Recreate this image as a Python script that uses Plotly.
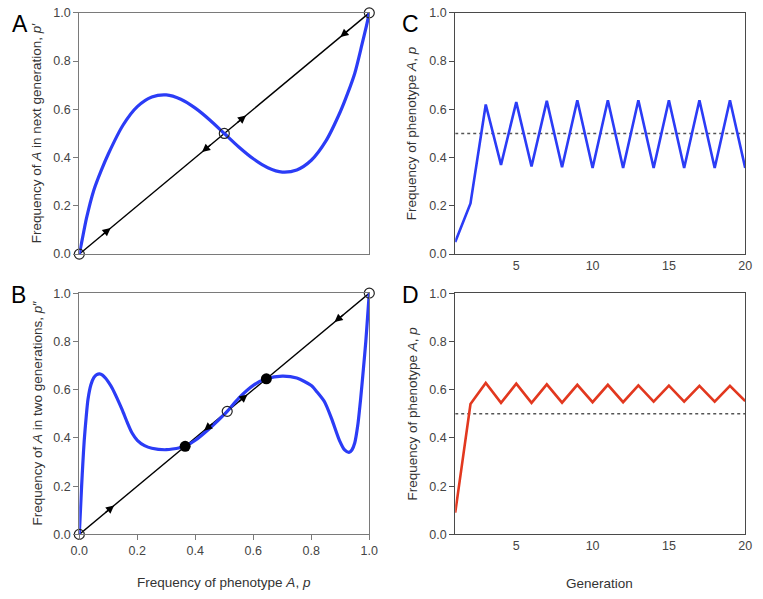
import plotly.graph_objects as go

# ---------------- data ----------------
# Panel A: p -> p'
p_A = [0, 0.01, 0.025, 0.05, 0.075, 0.1, 0.15, 0.2, 0.25, 0.3, 0.35, 0.4, 0.45, 0.5,
       0.55, 0.6, 0.65, 0.7, 0.75, 0.8, 0.85, 0.9, 0.925, 0.95, 0.975, 0.99, 1.0]
f_A = [0, 0.06, 0.15, 0.265, 0.345, 0.415, 0.533, 0.611, 0.651, 0.66, 0.642, 0.605, 0.556, 0.5,
       0.444, 0.395, 0.358, 0.34, 0.349, 0.389, 0.468, 0.59, 0.665, 0.75, 0.87, 0.945, 1.0]

# Panel B: p -> p''
p_B = [0, 0.004, 0.008, 0.012, 0.017, 0.024, 0.03, 0.04, 0.05, 0.06, 0.07, 0.08, 0.09, 0.1,
       0.114, 0.13, 0.148, 0.165, 0.182, 0.2, 0.225, 0.25, 0.3, 0.35, 0.365, 0.4, 0.45, 0.5,
       0.51, 0.55, 0.6, 0.645, 0.7, 0.75, 0.8, 0.82, 0.846, 0.87, 0.897, 0.915, 0.93, 0.94,
       0.95, 0.96, 0.97, 0.98, 0.988, 0.994, 1.0]
f_B = [0, 0.1, 0.2, 0.29, 0.39, 0.49, 0.56, 0.62, 0.65, 0.662, 0.665, 0.66, 0.648, 0.632,
       0.605, 0.565, 0.516, 0.465, 0.42, 0.39, 0.368, 0.357, 0.351, 0.36, 0.365, 0.39, 0.44, 0.497,
       0.51, 0.565, 0.618, 0.645, 0.656, 0.648, 0.617, 0.59, 0.549, 0.48, 0.39, 0.35, 0.34, 0.35,
       0.38, 0.45, 0.56, 0.69, 0.8, 0.9, 1.0]

open_fixed_A = [0, 0.5, 1.0]
open_fixed_B = [0, 0.51, 1.0]
stable_B = [0.365, 0.645]

arrows_A = [0.108, 0.575, 0.423, 0.9]
arrows_A_dir = [1, 1, -1, -1]
arrows_B = [0.12, 0.58, 0.43, 0.88]
arrows_B_dir = [1, 1, -1, -1]

# Panels C and D: trajectories
generation = list(range(1, 21))
traj_C = [0.05, 0.21, 0.62, 0.37, 0.63, 0.363, 0.635, 0.36, 0.638, 0.357, 0.638, 0.357,
          0.638, 0.357, 0.638, 0.357, 0.638, 0.357, 0.638, 0.357]
traj_D = [0.09, 0.54, 0.628, 0.545, 0.625, 0.545, 0.622, 0.546, 0.62, 0.548, 0.62, 0.548,
          0.618, 0.55, 0.617, 0.55, 0.616, 0.55, 0.616, 0.553]
half_line = [0.5, 0.5]
half_x = [1, 20]

y_ticks = [0, 0.2, 0.4, 0.6, 0.8, 1.0]
p_ticks = [0, 0.2, 0.4, 0.6, 0.8, 1.0]
gen_ticks = [5, 10, 15, 20]

BLUE = "#2b3cf6"
RED = "#e2381f"
FONT = "Liberation Sans, Arial, sans-serif"

# ---------------- figure ----------------
fig = go.Figure()

W, H = 763, 599
def px_x(a, b):
    return [a / W, b / W]
def px_y(top, bottom):
    return [1 - bottom / H, 1 - top / H]

# A
fig.add_trace(go.Scatter(x=[0, 1], y=[0, 1], mode="lines", line=dict(color="black", width=1.4),
                         xaxis="x", yaxis="y", showlegend=False, hoverinfo="skip"))
fig.add_trace(go.Scatter(x=p_A, y=f_A, mode="lines", line=dict(color=BLUE, width=3.2, shape="spline", smoothing=0.8),
                         xaxis="x", yaxis="y", showlegend=False, cliponaxis=False))
fig.add_trace(go.Scatter(x=open_fixed_A, y=open_fixed_A, mode="markers",
                         marker=dict(symbol="circle-open", size=10, color="#222", line=dict(width=1.2)),
                         xaxis="x", yaxis="y", showlegend=False, cliponaxis=False))
# B
fig.add_trace(go.Scatter(x=[0, 1], y=[0, 1], mode="lines", line=dict(color="black", width=1.4),
                         xaxis="x2", yaxis="y2", showlegend=False, hoverinfo="skip"))
fig.add_trace(go.Scatter(x=p_B, y=f_B, mode="lines", line=dict(color=BLUE, width=3.2, shape="spline", smoothing=0.7),
                         xaxis="x2", yaxis="y2", showlegend=False, cliponaxis=False))
fig.add_trace(go.Scatter(x=open_fixed_B, y=open_fixed_B, mode="markers",
                         marker=dict(symbol="circle-open", size=10, color="#222", line=dict(width=1.2)),
                         xaxis="x2", yaxis="y2", showlegend=False, cliponaxis=False))
fig.add_trace(go.Scatter(x=stable_B, y=stable_B, mode="markers",
                         marker=dict(symbol="circle", size=11, color="black"),
                         xaxis="x2", yaxis="y2", showlegend=False, cliponaxis=False))
# C
fig.add_trace(go.Scatter(x=half_x, y=half_line, mode="lines", line=dict(color="#555", width=1.5, dash="dot"),
                         xaxis="x3", yaxis="y3", showlegend=False))
fig.add_trace(go.Scatter(x=generation, y=traj_C, mode="lines", line=dict(color=BLUE, width=2.6),
                         xaxis="x3", yaxis="y3", showlegend=False))
# D
fig.add_trace(go.Scatter(x=half_x, y=half_line, mode="lines", line=dict(color="#555", width=1.5, dash="dot"),
                         xaxis="x4", yaxis="y4", showlegend=False))
fig.add_trace(go.Scatter(x=generation, y=traj_D, mode="lines", line=dict(color=RED, width=2.6),
                         xaxis="x4", yaxis="y4", showlegend=False))

annotations = []
def add_arrows(pos, dirs, xr, yr):
    d = 0.035
    for p, s in zip(pos, dirs):
        annotations.append(dict(x=p, y=p, ax=p - s * d, ay=p - s * d, xref=xr, yref=yr,
                                axref=xr, ayref=yr, text="", showarrow=True, arrowhead=2,
                                arrowsize=1.25, arrowwidth=1.3, arrowcolor="black", standoff=0))
add_arrows(arrows_A, arrows_A_dir, "x", "y")
add_arrows(arrows_B, arrows_B_dir, "x2", "y2")

def txt(s, x, y, size=13, angle=0, color="#333"):
    annotations.append(dict(text=s, x=x / W, y=1 - y / H, xref="paper", yref="paper",
                            showarrow=False, textangle=angle, xanchor="center", yanchor="middle",
                            font=dict(size=size, color=color, family=FONT)))

txt("Frequency of <i>A</i> in next generation, <i>p</i>′", 29, 129, size=13.5, angle=-90)
txt("Frequency of <i>A</i> in two generations, <i>p</i>″", 29, 416, size=13.5, angle=-90)
txt("Frequency of phenotype <i>A</i>, <i>p</i>", 413, 129, size=13.5, angle=-90)
txt("Frequency of phenotype <i>A</i>, <i>p</i>", 413, 416, size=13.5, angle=-90)
txt("Frequency of phenotype <i>A</i>, <i>p</i>", 220, 589, size=13.5)
txt("Generation", 605, 590, size=13.5)
for letter, x, y in [("A", 11, 17), ("B", 10, 295), ("C", 411, 17), ("D", 411, 295)]:
    txt(letter, x, y, size=23, color="black")

def axis_common(color):
    return dict(showline=True, linecolor=color, linewidth=1.2, mirror=True, showgrid=False,
                zeroline=False, ticks="outside", ticklen=5, tickcolor=color, tickwidth=1.2,
                tickfont=dict(size=12.5, color="#444", family=FONT))

GA = "#7a7a7a"
GC = "#4a4a4a"
fig.update_layout(
    width=W, height=H, margin=dict(l=0, r=0, t=0, b=0),
    paper_bgcolor="white", plot_bgcolor="white", showlegend=False,
    xaxis=dict(axis_common(GA), domain=px_x(72, 369), range=[0, 1], ticks="", showticklabels=False,
               anchor="y"),
    yaxis=dict(axis_common(GA), domain=px_y(6, 253), range=[0, 1], tickvals=y_ticks, tickformat=".1f",
               anchor="x"),
    xaxis2=dict(axis_common(GA), domain=px_x(72, 369), range=[0, 1], tickvals=p_ticks, tickformat=".1f",
                anchor="y2"),
    yaxis2=dict(axis_common(GA), domain=px_y(293, 540), range=[0, 1], tickvals=y_ticks, tickformat=".1f",
                anchor="x2"),
    xaxis3=dict(axis_common(GC), domain=px_x(457, 754), range=[1, 20], tickvals=gen_ticks, ticks="",
                anchor="y3"),
    yaxis3=dict(axis_common(GC), domain=px_y(6, 253), range=[0, 1], tickvals=y_ticks, tickformat=".1f",
                anchor="x3"),
    xaxis4=dict(axis_common(GC), domain=px_x(457, 754), range=[1, 20], tickvals=gen_ticks, ticks="",
                anchor="y4"),
    yaxis4=dict(axis_common(GC), domain=px_y(293, 540), range=[0, 1], tickvals=y_ticks, tickformat=".1f",
                anchor="x4"),
    annotations=annotations,
)

fig.write_html("out.html", config={"displayModeBar": False},
               post_script="document.body.style.margin='0';document.body.style.overflow='hidden';")
